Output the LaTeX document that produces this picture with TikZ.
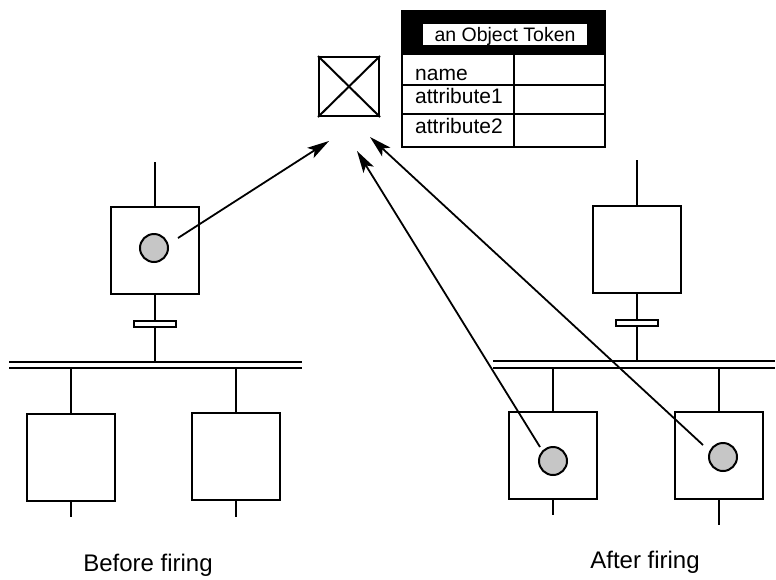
\documentclass[tikz,border=0pt]{standalone}
\usepackage{fontspec}
\setmainfont{Liberation Sans}
\usetikzlibrary{arrows.meta}
\begin{document}
\begin{tikzpicture}[x=1pt,y=-1pt,
 conn/.style={line width=2pt},
 stepbox/.style={draw, line width=2pt, minimum width=88pt, minimum height=87pt, inner sep=0pt},
 tok/.style={circle, draw, line width=2pt, fill=gray!45, minimum size=28pt, inner sep=0pt},
 tbar/.style={draw, line width=1.7pt, fill=white, minimum width=42pt, minimum height=6pt, inner sep=0pt},
 ptr/.style={line width=1.8pt, -{Stealth[length=22pt,width=12pt,inset=5pt]}},
 lbl/.style={font=\fontsize{24}{28}\selectfont, inner sep=0pt, anchor=base},
 cellbox/.style={draw, line width=2pt, inner sep=0pt, anchor=north west},
 celltxt/.style={font=\fontsize{21}{25}\selectfont, inner sep=0pt, anchor=base west}]
\useasboundingbox (0,0) rectangle (776,579);

% ---------- Object token (top) ----------
\node[draw, line width=2pt, minimum width=60pt, minimum height=59pt, inner sep=0pt] (ob) at (349,86.5) {};
\draw[conn] (ob.north west) -- (ob.south east);
\draw[conn] (ob.north east) -- (ob.south west);

\node[cellbox, fill=black, minimum width=203pt, minimum height=43pt] (hd) at (401,10) {};
\node[fill=white, minimum width=164pt, minimum height=21pt, inner sep=0pt] (hl) at (505,34.5) {};
\node[font=\fontsize{19.5}{23}\selectfont, inner sep=0pt, anchor=base] (ht) at (505,41.5) {an Object Token};
\node[cellbox, minimum width=112pt, minimum height=31pt] (c1a) at (401,53) {};
\node[cellbox, minimum width=91pt, minimum height=31pt] (c1b) at (513,53) {};
\node[cellbox, minimum width=112pt, minimum height=29pt] (c2a) at (401,84) {};
\node[cellbox, minimum width=91pt, minimum height=29pt] (c2b) at (513,84) {};
\node[cellbox, minimum width=112pt, minimum height=33pt] (c3a) at (401,113) {};
\node[cellbox, minimum width=91pt, minimum height=33pt] (c3b) at (513,113) {};
\node[celltxt] (t1) at (415,80) {name};
\node[celltxt] (t2) at (415,103) {attribute1};
\node[celltxt] (t3) at (415,133) {attribute2};

% ---------- Before firing ----------
\node[stepbox] (lp) at (155,250.5) {};
\node[tok] (lt) at (154,248) {};
\node[tbar] (lb) at (155,324) {};
\coordinate (ltop) at (155,162);
\coordinate (lj) at (155,362);
\draw[conn] (ltop) -- (lp.north);
\draw[conn] (lp.south) -- (lb.north);
\draw[conn] (lb.south) -- (lj);
\coordinate (ld1a) at (9,362);
\coordinate (ld1b) at (302,362);
\coordinate (ld2a) at (9,368);
\coordinate (ld2b) at (302,368);
\draw[conn] (ld1a) -- (ld1b);
\draw[conn] (ld2a) -- (ld2b);

\node[stepbox] (la) at (71,457) {};
\coordinate (laj) at (71,368);
\coordinate (lae) at (71,517);
\draw[conn] (laj) -- (la.north);
\draw[conn] (la.south) -- (lae);

\node[stepbox] (lc) at (236,456) {};
\coordinate (lcj) at (236,368);
\coordinate (lce) at (236,517);
\draw[conn] (lcj) -- (lc.north);
\draw[conn] (lc.south) -- (lce);

\node[lbl] (bf) at (148,571) {Before firing};

% ---------- After firing ----------
\node[stepbox] (rp) at (637,249) {};
\node[tbar] (rb) at (637,323) {};
\coordinate (rtop) at (637,160);
\coordinate (rj) at (637,361);
\draw[conn] (rtop) -- (rp.north);
\draw[conn] (rp.south) -- (rb.north);
\draw[conn] (rb.south) -- (rj);
\coordinate (rd1a) at (493,361);
\coordinate (rd1b) at (775,361);
\coordinate (rd2a) at (493,368);
\coordinate (rd2b) at (775,368);
\draw[conn] (rd1a) -- (rd1b);
\draw[conn] (rd2a) -- (rd2b);

\node[stepbox] (ra) at (553,455.5) {};
\node[tok] (rat) at (553,461) {};
\coordinate (raj) at (553,368);
\coordinate (rae) at (553,515);
\draw[conn] (raj) -- (ra.north);
\draw[conn] (ra.south) -- (rae);

\node[stepbox] (rc) at (719,455) {};
\node[tok] (rct) at (723,457) {};
\coordinate (rcj) at (719,368);
\coordinate (rce) at (719,525);
\draw[conn] (rcj) -- (rc.north);
\draw[conn] (rc.south) -- (rce);

\node[lbl] (af) at (645,568) {After firing};

% ---------- pointers ----------
\coordinate (a1s) at (178,238);
\coordinate (a1t) at (329,141);
\coordinate (a2s) at (540,447);
\coordinate (a2t) at (357,151);
\coordinate (a3s) at (703,445);
\coordinate (a3t) at (370,137);
\draw[ptr] (a1s) -- (a1t);
\draw[ptr] (a2s) -- (a2t);
\draw[ptr] (a3s) -- (a3t);
\end{tikzpicture}
\end{document}
